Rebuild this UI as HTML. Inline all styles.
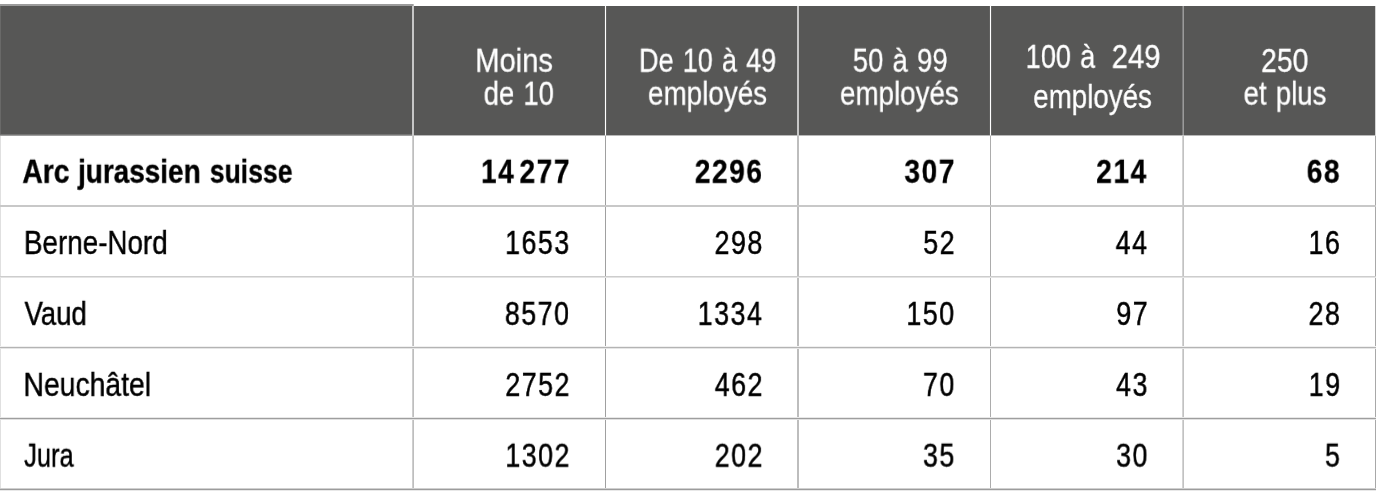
<!DOCTYPE html>
<html><head><meta charset="utf-8"><title>Table</title><style>
html,body{margin:0;padding:0;background:#fff}
body{width:1381px;height:497px;position:relative;overflow:hidden;font-family:"Liberation Sans",sans-serif}
.r{position:absolute}
.h{-webkit-text-stroke:0.3px #fff}
.t{position:absolute;left:0;top:0;font-size:33.5px;line-height:1;white-space:pre;transform-origin:0 0;will-change:transform}

</style></head><body>
<div class="r" style="left:0px;top:4px;width:413px;height:2px;background:#9b9b9b"></div>
<div class="r" style="left:413px;top:4px;width:1px;height:2px;background:#bdbdbd"></div>
<div class="r" style="left:0px;top:6px;width:412px;height:128px;background:#575756"></div>
<div class="r" style="left:0px;top:134px;width:412px;height:1px;background:#747473"></div>
<div class="r" style="left:0px;top:135px;width:412px;height:1px;background:#9e9e9e"></div>
<div class="r" style="left:414px;top:6px;width:961px;height:129px;background:#575756"></div>
<div class="r" style="left:414px;top:135px;width:961px;height:1px;background:#b8b8b8"></div>
<div class="r" style="left:412px;top:136px;width:1px;height:354px;background:#cecece"></div>
<div class="r" style="left:413px;top:136px;width:1px;height:354px;background:#bebebe"></div>
<div class="r" style="left:605px;top:136px;width:1px;height:354px;background:#a0a0a0"></div>
<div class="r" style="left:797px;top:136px;width:2px;height:354px;background:#bdbdbd"></div>
<div class="r" style="left:990px;top:136px;width:1px;height:354px;background:#acacac"></div>
<div class="r" style="left:1182px;top:136px;width:1px;height:354px;background:#d4d4d4"></div>
<div class="r" style="left:1183px;top:136px;width:1px;height:354px;background:#c2c2c2"></div>
<div class="r" style="left:1375px;top:136px;width:1px;height:354px;background:#a8a8a8"></div>
<div class="r" style="left:412px;top:6px;width:2px;height:129px;background:#c6c6c6"></div>
<div class="r" style="left:412px;top:135px;width:2px;height:1px;background:#c8c8c8"></div>
<div class="r" style="left:605px;top:6px;width:1px;height:129px;background:#ffffff"></div>
<div class="r" style="left:605px;top:135px;width:1px;height:1px;background:#d0d0d0"></div>
<div class="r" style="left:604px;top:6px;width:1px;height:129px;background:#616160"></div>
<div class="r" style="left:606px;top:6px;width:1px;height:129px;background:#646463"></div>
<div class="r" style="left:797px;top:6px;width:2px;height:129px;background:#c6c6c6"></div>
<div class="r" style="left:797px;top:135px;width:2px;height:1px;background:#c4c4c4"></div>
<div class="r" style="left:990px;top:6px;width:1px;height:129px;background:#ffffff"></div>
<div class="r" style="left:990px;top:135px;width:1px;height:1px;background:#d4d4d4"></div>
<div class="r" style="left:989px;top:6px;width:1px;height:129px;background:#616160"></div>
<div class="r" style="left:991px;top:6px;width:1px;height:129px;background:#646463"></div>
<div class="r" style="left:1182px;top:6px;width:1px;height:129px;background:#7c7c7c"></div>
<div class="r" style="left:1183px;top:6px;width:1px;height:129px;background:#9a9a9a"></div>
<div class="r" style="left:1182px;top:135px;width:2px;height:1px;background:#c4c4c4"></div>
<div class="r" style="left:1375px;top:6px;width:1px;height:130px;background:#d4d4d4"></div>
<div class="r" style="left:0px;top:6px;width:1px;height:128px;background:#696968"></div>
<div class="r" style="left:0px;top:136px;width:1px;height:354px;background:#e0e0e0"></div>
<div class="r" style="left:0px;top:205px;width:1376px;height:2px;background:#c8c8c8"></div>
<div class="r" style="left:0px;top:276px;width:1376px;height:1px;background:#cdcdcd"></div>
<div class="r" style="left:0px;top:277px;width:1376px;height:1px;background:#e4e4e4"></div>
<div class="r" style="left:0px;top:346px;width:1376px;height:1px;background:#f0f0f0"></div>
<div class="r" style="left:0px;top:347px;width:1376px;height:1px;background:#b4b4b4"></div>
<div class="r" style="left:0px;top:348px;width:1376px;height:1px;background:#e6e6e6"></div>
<div class="r" style="left:0px;top:417px;width:1376px;height:1px;background:#e8e8e8"></div>
<div class="r" style="left:0px;top:418px;width:1376px;height:1px;background:#9e9e9e"></div>
<div class="r" style="left:0px;top:419px;width:1376px;height:1px;background:#e0e0e0"></div>
<div class="r" style="left:0px;top:488px;width:1376px;height:1px;background:#d0d0d0"></div>
<div class="r" style="left:0px;top:489px;width:1376px;height:1px;background:#9c9c9c"></div>
<div class="r" style="left:0px;top:490px;width:1376px;height:1px;background:#e8e8e8"></div>
<span class="t h" style="transform:translate(475.21px,43.80px) scaleX(0.8702);font-weight:400;color:#fff">Moins</span>
<span class="t h" style="transform:translate(483.67px,76.80px) scaleX(0.8181);font-weight:400;color:#fff;word-spacing:2px">de 10</span>
<span class="t h" style="transform:translate(638.98px,43.80px) scaleX(0.8073);font-weight:400;color:#fff;word-spacing:2px">De 10 à 49</span>
<span class="t h" style="transform:translate(647.95px,76.70px) scaleX(0.8313);font-weight:400;color:#fff">employés</span>
<span class="t h" style="transform:translate(852.77px,43.80px) scaleX(0.8186);font-weight:400;color:#fff;word-spacing:2px">50 à 99</span>
<span class="t h" style="transform:translate(839.96px,76.70px) scaleX(0.8291);font-weight:400;color:#fff">employés</span>
<span class="t h" style="transform:translate(1025.68px,39.90px) scaleX(0.8096);font-weight:400;color:#fff;word-spacing:2px">100 à</span>
<span class="t h" style="transform:translate(1111.67px,39.90px) scaleX(0.8724);font-weight:400;color:#fff">249</span>
<span class="t h" style="transform:translate(1033.16px,80.00px) scaleX(0.8284);font-weight:400;color:#fff">employés</span>
<span class="t h" style="transform:translate(1261.02px,43.90px) scaleX(0.8474);font-weight:400;color:#fff">250</span>
<span class="t h" style="transform:translate(1243.57px,76.70px) scaleX(0.8214);font-weight:400;color:#fff;word-spacing:2px">et plus</span>
<span class="t" style="transform:translate(22.37px,154.80px) scaleX(0.8424);font-weight:700;color:#000;-webkit-text-stroke:0.4px #000">Arc</span>
<span class="t" style="transform:translate(78.02px,154.80px) scaleX(0.8329);font-weight:700;color:#000;-webkit-text-stroke:0.4px #000">jurassien</span>
<span class="t" style="transform:translate(209.81px,154.80px) scaleX(0.7922);font-weight:700;color:#000;-webkit-text-stroke:0.4px #000">suisse</span>
<span class="t" style="transform:translate(23.92px,225.95px) scaleX(0.8302);font-weight:400;color:#000;-webkit-text-stroke:0.45px #000">Berne-Nord</span>
<span class="t" style="transform:translate(24.51px,296.90px) scaleX(0.8230);font-weight:400;color:#000;-webkit-text-stroke:0.45px #000">Vaud</span>
<span class="t" style="transform:translate(23.49px,367.90px) scaleX(0.8458);font-weight:400;color:#000;-webkit-text-stroke:0.45px #000">Neuchâtel</span>
<span class="t" style="transform:translate(24.11px,438.70px) scaleX(0.7602);font-weight:400;color:#000;-webkit-text-stroke:0.45px #000">Jura</span>
<span class="t" style="transform:translate(480.94px,154.80px) scaleX(0.8380);font-weight:700;color:#000;letter-spacing:1.9px;-webkit-text-stroke:0.3px #000">14<span style="font-size:32%"> </span>277</span>
<span class="t" style="transform:translate(694.80px,154.80px) scaleX(0.8380);font-weight:700;color:#000;letter-spacing:1.9px;-webkit-text-stroke:0.3px #000">2296</span>
<span class="t" style="transform:translate(904.39px,154.80px) scaleX(0.8380);font-weight:700;color:#000;letter-spacing:1.9px;-webkit-text-stroke:0.3px #000">307</span>
<span class="t" style="transform:translate(1096.23px,154.80px) scaleX(0.8380);font-weight:700;color:#000;letter-spacing:1.9px;-webkit-text-stroke:0.3px #000">214</span>
<span class="t" style="transform:translate(1306.75px,154.80px) scaleX(0.8380);font-weight:700;color:#000;letter-spacing:1.9px;-webkit-text-stroke:0.3px #000">68</span>
<span class="t" style="transform:translate(505.10px,225.95px) scaleX(0.8000);font-weight:400;color:#000;letter-spacing:1.9px;-webkit-text-stroke:0.5px #000">1653</span>
<span class="t" style="transform:translate(714.60px,225.95px) scaleX(0.8000);font-weight:400;color:#000;letter-spacing:1.9px;-webkit-text-stroke:0.5px #000">298</span>
<span class="t" style="transform:translate(923.20px,225.95px) scaleX(0.8000);font-weight:400;color:#000;letter-spacing:1.9px;-webkit-text-stroke:0.5px #000">52</span>
<span class="t" style="transform:translate(1115.70px,225.95px) scaleX(0.8000);font-weight:400;color:#000;letter-spacing:1.9px;-webkit-text-stroke:0.5px #000">44</span>
<span class="t" style="transform:translate(1308.60px,225.95px) scaleX(0.8000);font-weight:400;color:#000;letter-spacing:1.9px;-webkit-text-stroke:0.5px #000">16</span>
<span class="t" style="transform:translate(504.90px,296.90px) scaleX(0.8000);font-weight:400;color:#000;letter-spacing:1.9px;-webkit-text-stroke:0.5px #000">8570</span>
<span class="t" style="transform:translate(697.80px,296.90px) scaleX(0.8000);font-weight:400;color:#000;letter-spacing:1.9px;-webkit-text-stroke:0.5px #000">1334</span>
<span class="t" style="transform:translate(906.40px,296.90px) scaleX(0.8000);font-weight:400;color:#000;letter-spacing:1.9px;-webkit-text-stroke:0.5px #000">150</span>
<span class="t" style="transform:translate(1116.30px,296.90px) scaleX(0.8000);font-weight:400;color:#000;letter-spacing:1.9px;-webkit-text-stroke:0.5px #000">97</span>
<span class="t" style="transform:translate(1308.60px,296.90px) scaleX(0.8000);font-weight:400;color:#000;letter-spacing:1.9px;-webkit-text-stroke:0.5px #000">28</span>
<span class="t" style="transform:translate(505.30px,367.90px) scaleX(0.8000);font-weight:400;color:#000;letter-spacing:1.9px;-webkit-text-stroke:0.5px #000">2752</span>
<span class="t" style="transform:translate(714.80px,367.90px) scaleX(0.8000);font-weight:400;color:#000;letter-spacing:1.9px;-webkit-text-stroke:0.5px #000">462</span>
<span class="t" style="transform:translate(923.00px,367.90px) scaleX(0.8000);font-weight:400;color:#000;letter-spacing:1.9px;-webkit-text-stroke:0.5px #000">70</span>
<span class="t" style="transform:translate(1116.10px,367.90px) scaleX(0.8000);font-weight:400;color:#000;letter-spacing:1.9px;-webkit-text-stroke:0.5px #000">43</span>
<span class="t" style="transform:translate(1308.80px,367.90px) scaleX(0.8000);font-weight:400;color:#000;letter-spacing:1.9px;-webkit-text-stroke:0.5px #000">19</span>
<span class="t" style="transform:translate(505.30px,438.70px) scaleX(0.8000);font-weight:400;color:#000;letter-spacing:1.9px;-webkit-text-stroke:0.5px #000">1302</span>
<span class="t" style="transform:translate(714.80px,438.70px) scaleX(0.8000);font-weight:400;color:#000;letter-spacing:1.9px;-webkit-text-stroke:0.5px #000">202</span>
<span class="t" style="transform:translate(923.00px,438.70px) scaleX(0.8000);font-weight:400;color:#000;letter-spacing:1.9px;-webkit-text-stroke:0.5px #000">35</span>
<span class="t" style="transform:translate(1116.10px,438.70px) scaleX(0.8000);font-weight:400;color:#000;letter-spacing:1.9px;-webkit-text-stroke:0.5px #000">30</span>
<span class="t" style="transform:translate(1325.00px,438.70px) scaleX(0.8000);font-weight:400;color:#000;letter-spacing:1.9px;-webkit-text-stroke:0.5px #000">5</span>
</body></html>
